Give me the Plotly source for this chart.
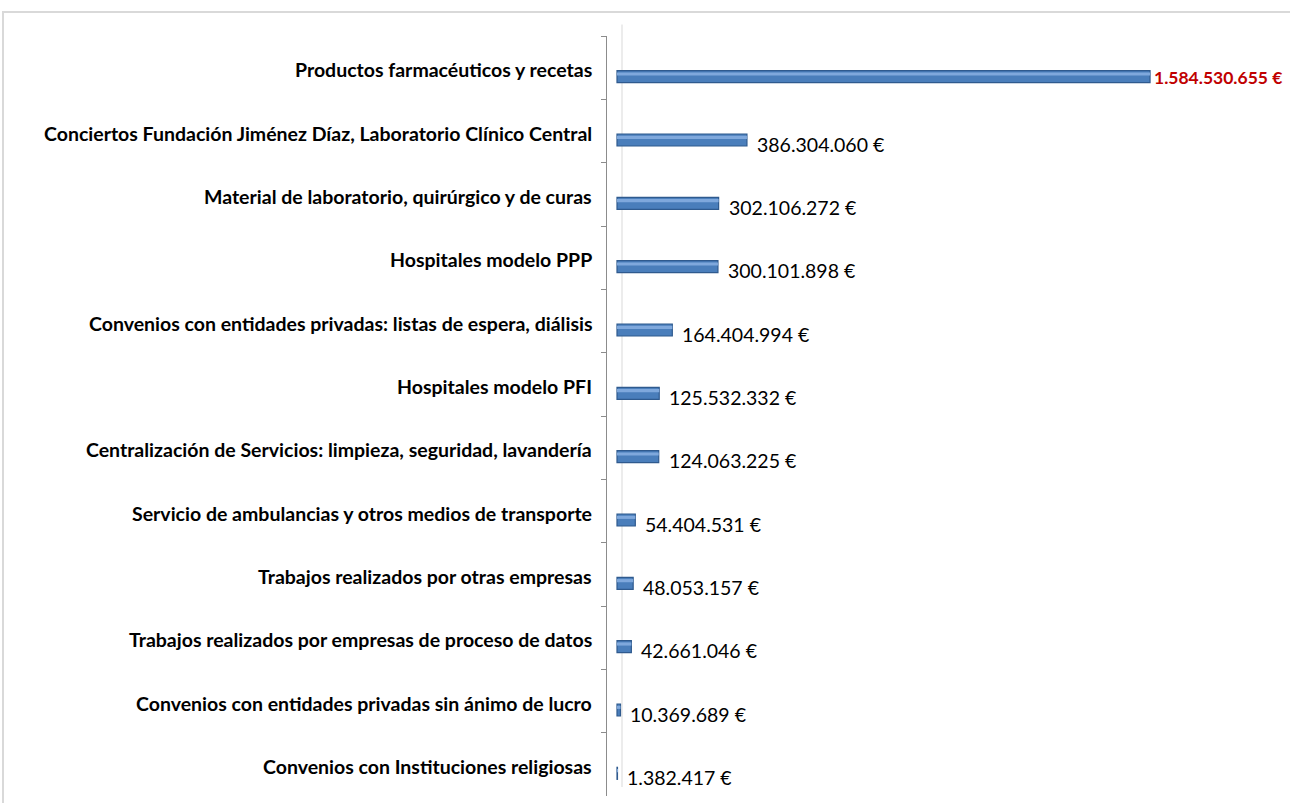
import plotly.graph_objects as go

categories = [
    "Productos farmacéuticos y recetas",
    "Conciertos Fundación Jiménez Díaz, Laboratorio Clínico Central",
    "Material de laboratorio, quirúrgico y de curas",
    "Hospitales modelo PPP",
    "Convenios con entidades privadas: listas de espera, diálisis",
    "Hospitales modelo PFI",
    "Centralización de Servicios: limpieza, seguridad, lavandería",
    "Servicio de ambulancias y otros medios de transporte",
    "Trabajos realizados por otras empresas",
    "Trabajos realizados por empresas de proceso de datos",
    "Convenios con entidades privadas sin ánimo de lucro",
    "Convenios con Instituciones religiosas",
]
values = [1584530655, 386304060, 302106272, 300101898, 164404994, 125532332,
          124063225, 54404531, 48053157, 42661046, 10369689, 1382417]


def fmt(v):
    return f"{v:,}".replace(",", ".") + " €"


value_labels = [fmt(v) for v in values]

W, H = 1290, 803
L, R, T, B = 607, 0, 36, 7
PX_PER = 336.4 / 1e9
x0 = -10 / PX_PER
x1 = x0 + (W - L - R) / PX_PER

FONT = "Lato"
FS = 19.5

fig = go.Figure()
fig.add_trace(go.Bar(
    y=categories, x=values, orientation="h",
    width=0.19, offset=0.047,
    marker=dict(color="#4A7EBB", line=dict(color="#2F5A8E", width=1.2)),
    hoverinfo="skip",
))
# highlight stripe for the cylinder look
fig.add_trace(go.Bar(
    y=categories, x=values, orientation="h",
    width=0.05, offset=0.075,
    marker=dict(color="#7FA8DC", line=dict(width=0)),
    hoverinfo="skip",
))

annotations = []
for i, (c, v, lab) in enumerate(zip(categories, values, value_labels)):
    annotations.append(dict(
        x=0, xref="paper", y=c, yref="y", text=f"<b>{c}</b>",
        xanchor="right", yanchor="middle", xshift=-13, yshift=-2,
        showarrow=False, font=dict(family=FONT, size=FS, color="#000000"),
    ))
    first = i == 0
    annotations.append(dict(
        x=v, xref="x", y=c, yref="y",
        text=f"<b>{lab}</b>" if first else lab,
        xanchor="left", yanchor="middle",
        xshift=2 if first else 8, yshift=-10 if first else -13,
        showarrow=False,
        font=dict(family=FONT, size=17.5 if first else FS,
                  color="#C00000" if first else "#000000"),
    ))

shapes = [
    # outer chart border
    dict(type="rect", xref="paper", yref="paper",
         x0=(3 - L) / (W - L - R), x1=1.02,
         y0=-0.05, y1=1 + (T - 12) / (H - T - B),
         line=dict(color="#D9D9D9", width=2), layer="below"),
    # 3D back wall line
    dict(type="line", xref="x", yref="paper",
         x0=5 / PX_PER, x1=5 / PX_PER, y0=0.012, y1=1.015,
         line=dict(color="#E6E6E6", width=1.5), layer="below"),
]

fig.update_layout(
    width=W, height=H,
    margin=dict(l=L, r=R, t=T, b=B),
    paper_bgcolor="white", plot_bgcolor="white",
    showlegend=False, barmode="overlay",
    annotations=annotations, shapes=shapes,
    xaxis=dict(visible=False, range=[x0, x1], fixedrange=True),
    yaxis=dict(
        type="category", categoryorder="array", categoryarray=categories,
        autorange="reversed", showticklabels=False, showgrid=False,
        showline=True, linecolor="#8C8C8C", linewidth=1,
        ticks="outside", tickson="boundaries", ticklen=5, tickcolor="#8C8C8C",
        zeroline=False, fixedrange=True,
    ),
)

fig.write_html("out.html", config={"displayModeBar": False})

# remove the default browser body margin so the figure sits at (0, 0)
with open("out.html", "r", encoding="utf-8") as f:
    html = f.read()
html = html.replace("<head>", "<head><style>html,body{margin:0;padding:0;overflow:hidden;}</style>", 1)
with open("out.html", "w", encoding="utf-8") as f:
    f.write(html)
